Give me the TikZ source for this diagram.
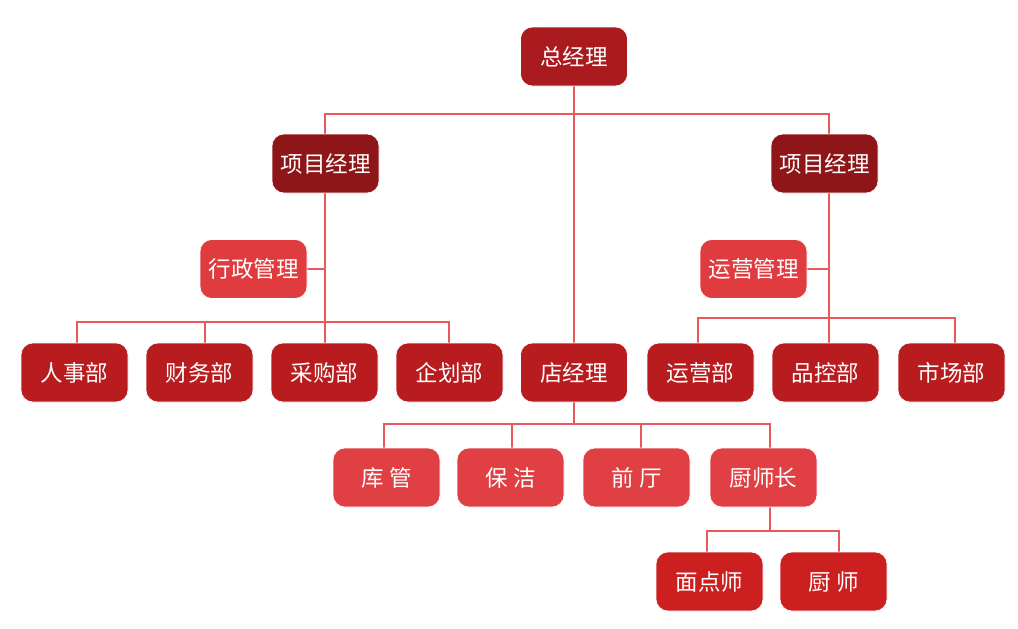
\documentclass[tikz,border=0pt]{standalone}
\usepackage{fontspec}
\setmainfont{Noto Sans CJK SC}
\usetikzlibrary{backgrounds}
\definecolor{cTop}{HTML}{AA1B1F}
\definecolor{cPM}{HTML}{8E1518}
\definecolor{cMid}{HTML}{E03C3F}
\definecolor{cDept}{HTML}{B81C1F}
\definecolor{cLow}{HTML}{E04044}
\definecolor{cBot}{HTML}{CC1F20}
\definecolor{cLine}{HTML}{E9585C}
\begin{document}
\begin{tikzpicture}[x=1pt,y=-1pt,
  box/.style={rectangle,rounded corners=12pt,minimum width=107pt,minimum height=59pt,
    inner sep=0pt,text=white,font=\fontsize{22.5}{26}\selectfont,draw=white,line width=0.6pt},
  ln/.style={draw=cLine,line width=2pt}]
\useasboundingbox (0,0) rectangle (1018,629);
% nodes
\node[box,fill=cTop] (top) at (574,56.5) {总经理};
\node[box,fill=cPM] (pmL) at (325.5,163.5) {项目经理};
\node[box,fill=cPM] (pmR) at (824.5,163.5) {项目经理};
\node[box,fill=cMid] (adm) at (253.5,269) {行政管理};
\node[box,fill=cMid] (ops) at (753.5,269) {运营管理};
\node[box,fill=cDept] (d1) at (74.5,372.5) {人事部};
\node[box,fill=cDept] (d2) at (199.5,372.5) {财务部};
\node[box,fill=cDept] (d3) at (324.5,372.5) {采购部};
\node[box,fill=cDept] (d4) at (449.5,372.5) {企划部};
\node[box,fill=cDept] (store) at (574,372.5) {店经理};
\node[box,fill=cDept] (d6) at (700.5,372.5) {运营部};
\node[box,fill=cDept] (d7) at (825.5,372.5) {品控部};
\node[box,fill=cDept] (d8) at (951.5,372.5) {市场部};
\node[box,fill=cLow] (s1) at (386.5,477.5) {库\ 管};
\node[box,fill=cLow] (s2) at (510.5,477.5) {保\ 洁};
\node[box,fill=cLow] (s3) at (636.5,477.5) {前\ 厅};
\node[box,fill=cLow] (chef) at (763.5,477.5) {厨师长};
\node[box,fill=cBot] (k1) at (709.5,581.5) {面点师};
\node[box,fill=cBot] (k2) at (833.5,581.5) {厨\ 师};
% bus levels
\coordinate (b0) at (0,114);
\coordinate (bL) at (0,322);
\coordinate (bR) at (0,318);
\coordinate (bS) at (0,424);
\coordinate (bC) at (0,531);
% drop points
\coordinate (pL) at ([xshift=-0.5pt]pmL.north);
\coordinate (pR) at ([xshift=4pt]pmR.north);
\coordinate (pLs) at ([xshift=-0.5pt]pmL.south);
\coordinate (pRs) at ([xshift=4pt]pmR.south);
\coordinate (q1) at ([xshift=2.5pt]d1.north);
\coordinate (q2) at ([xshift=5.5pt]d2.north);
\coordinate (q3) at ([xshift=0.5pt]d3.north);
\coordinate (q4) at ([xshift=-0.5pt]d4.north);
\coordinate (q6) at ([xshift=-2.5pt]d6.north);
\coordinate (q7) at ([xshift=3pt]d7.north);
\coordinate (q8) at ([xshift=3pt]d8.north);
\coordinate (r1) at ([xshift=-2.5pt]s1.north);
\coordinate (r2) at ([xshift=1.5pt]s2.north);
\coordinate (r3) at ([xshift=4.5pt]s3.north);
\coordinate (r4) at ([xshift=6.5pt]chef.north);
\coordinate (r4s) at ([xshift=6.5pt]chef.south);
\coordinate (t1) at ([xshift=-2.5pt]k1.north);
\coordinate (t2) at ([xshift=5.5pt]k2.north);
% connectors
\begin{scope}[on background layer]
\draw[ln] (top.south) -- (top.south |- store.north);
\draw[ln] (pL) -- (pL |- b0) -- (pR |- b0) -- (pR);
% left branch
\draw[ln] (pLs) -- (pLs |- bL);
\draw[ln] (adm.east) -- (pLs |- adm.east);
\draw[ln] (q1) -- (q1 |- bL) -- (q4 |- bL) -- (q4);
\draw[ln] (q2) -- (q2 |- bL);
\draw[ln] (q3) -- (q3 |- bL);
% right branch
\draw[ln] (pRs) -- (pRs |- bR);
\draw[ln] (ops.east) -- (pRs |- ops.east);
\draw[ln] (q6) -- (q6 |- bR) -- (q8 |- bR) -- (q8);
\draw[ln] (q7) -- (q7 |- bR);
% store branch
\draw[ln] (store.south) -- (store.south |- bS);
\draw[ln] (r1) -- (r1 |- bS) -- (r4 |- bS) -- (r4);
\draw[ln] (r2) -- (r2 |- bS);
\draw[ln] (r3) -- (r3 |- bS);
% chef branch
\draw[ln] (r4s) -- (r4s |- bC);
\draw[ln] (t1) -- (t1 |- bC) -- (t2 |- bC) -- (t2);
\end{scope}
\end{tikzpicture}
\end{document}
